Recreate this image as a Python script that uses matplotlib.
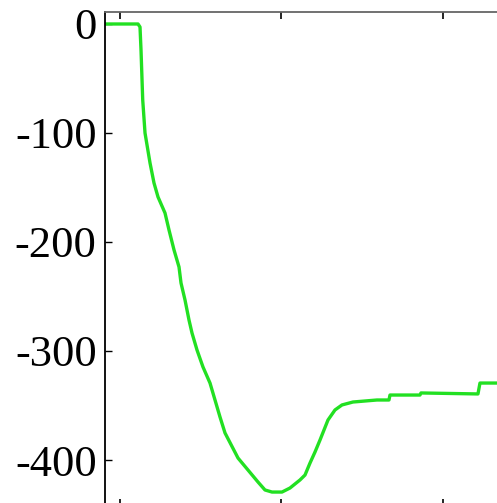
import numpy as np
import matplotlib.pyplot as plt

plt.rcParams['font.family'] = ['Liberation Serif', 'DejaVu Serif']
plt.rcParams['axes.unicode_minus'] = False

# trace: time vs. signal
t = [0.71, 21.15, 22.38, 23.0, 24.06, 25.48, 28.58, 31.05, 33.53, 37.86,
     40.34, 43.44, 46.53, 47.77, 50.25, 52.72, 54.58, 57.68, 61.39, 65.73,
     68.82, 71.92, 75.02, 83.07, 89.26, 95.45, 99.78, 104.12, 110.31, 115.26,
     121.46, 124.55, 127.65, 130.74, 133.84, 138.79, 143.13, 147.46, 154.27,
     169.13, 176.56, 177.18, 195.76, 196.38, 231.67, 232.91, 260.0]
signal = [0, 0, -2.75, -23.85, -69.72, -100, -127.5, -145.9, -158.7, -173.4,
          -189.0, -207.3, -222.9, -237.6, -253.2, -271.6, -283.5, -299.1,
          -314.7, -329.4, -344.95, -360.55, -375.2, -398.2, -409.2, -420.2,
          -427.5, -429.4, -429.4, -425.7, -418.3, -413.8, -402.8, -392.7,
          -381.7, -363.3, -354.1, -349.5, -346.8, -344.95, -344.95, -340.4,
          -340.4, -338.5, -339.4, -329.4, -329.4]

yticks = [0, -100, -200, -300, -400]
xticks = [10, 110, 210]

fig = plt.figure(figsize=(4.97, 5.03), dpi=100)
ax = fig.add_axes([105 / 497, -3 / 503, 415 / 497, 494 / 503])

ax.plot(t, signal, color='#22e022', lw=2.4)

ax.set_xlim(0.7, 257.7)
ax.set_ylim(-442.2, 11.0)
ax.set_yticks(yticks)
ax.set_yticklabels([str(v) for v in yticks])
ax.set_xticks(xticks)
ax.set_xticklabels([])

ax.tick_params(axis='y', direction='in', length=5, width=1, labelsize=32, pad=6,
               left=True, right=False)
ax.tick_params(axis='x', direction='in', length=5, width=1.2, top=True, bottom=True)

for side in ['top', 'right', 'bottom']:
    ax.spines[side].set_color('#666666')
ax.spines['left'].set_color('black')
for s in ax.spines.values():
    s.set_linewidth(1.3)

fig.savefig('out.png', dpi=100)
